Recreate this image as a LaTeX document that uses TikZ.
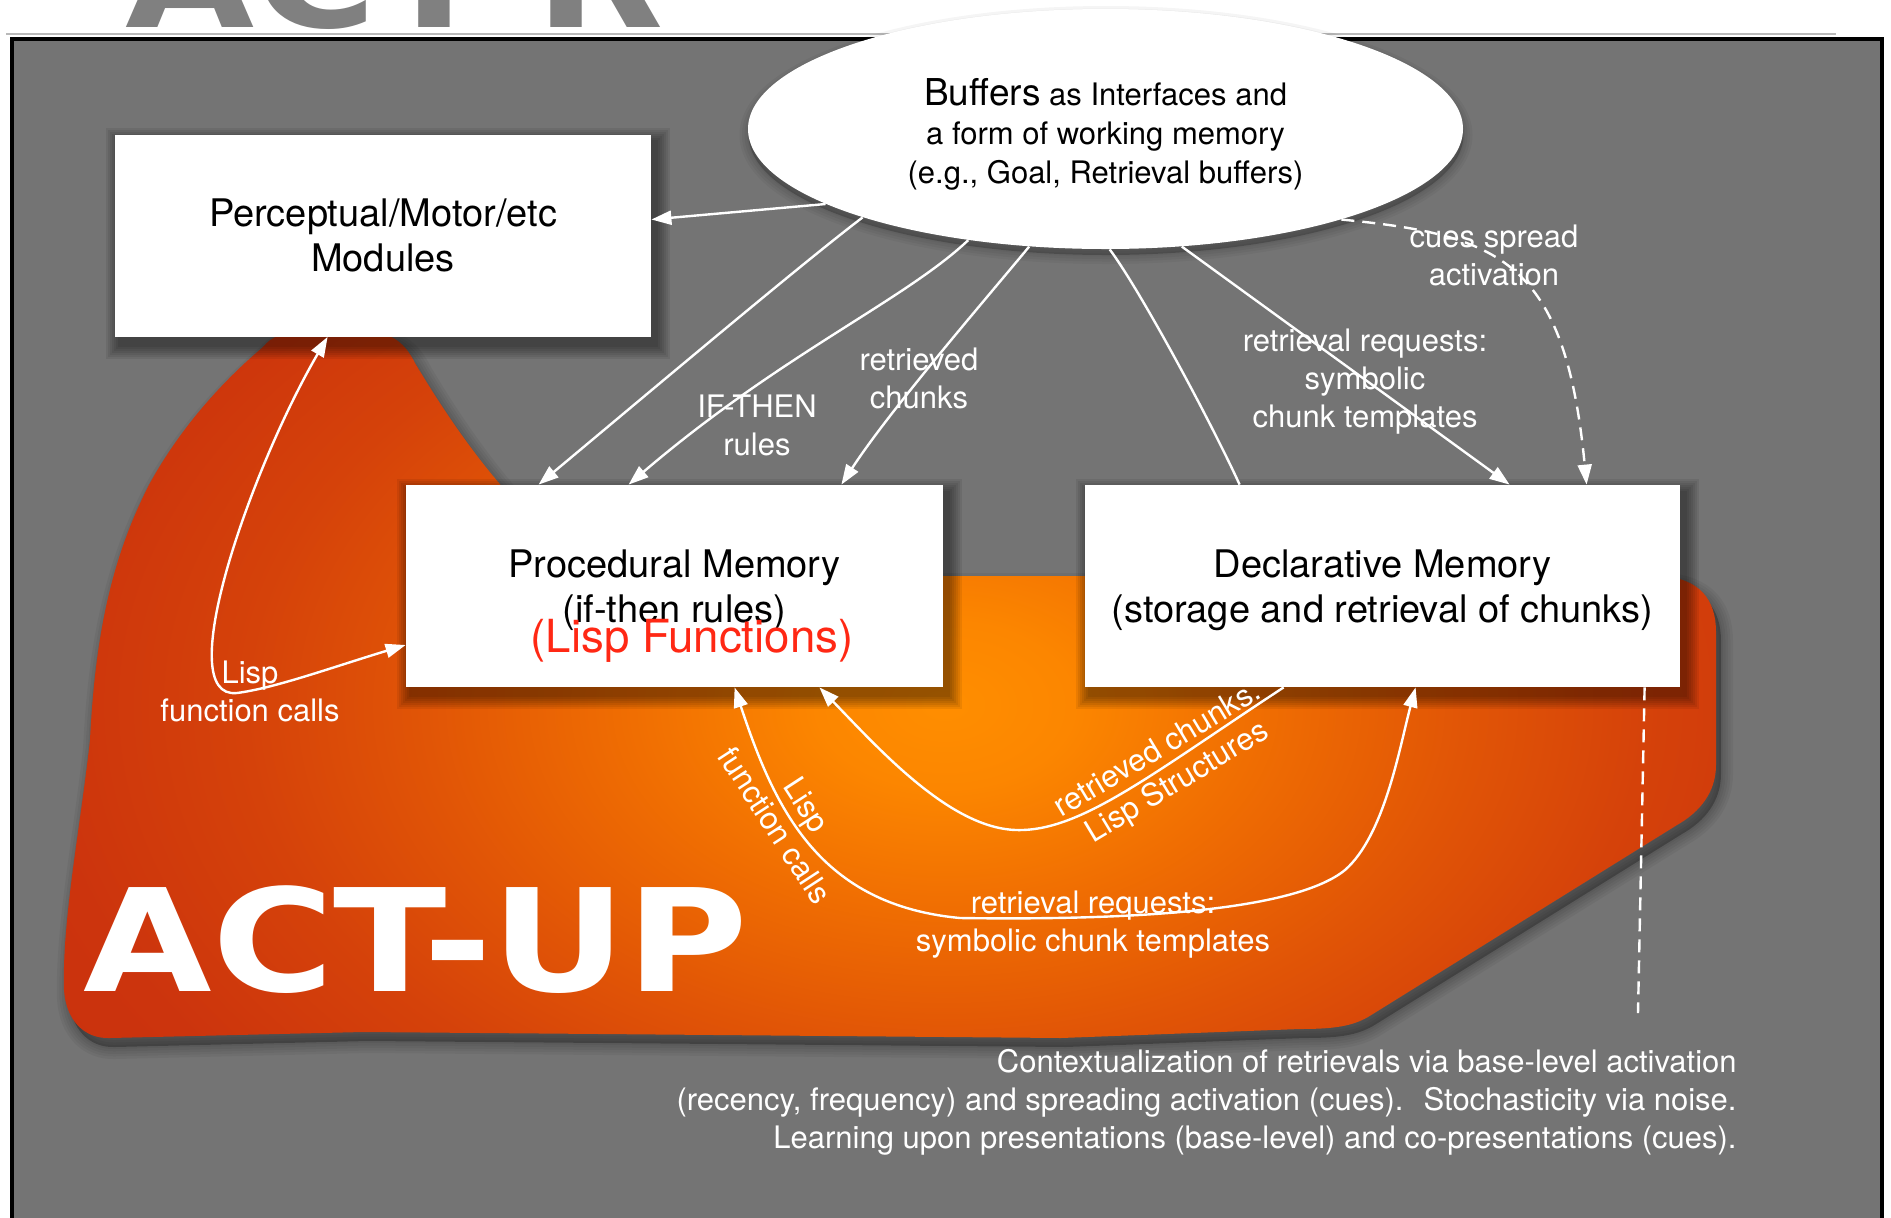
\documentclass[tikz,border=0pt]{standalone}
\usepackage{fontspec}
\setmainfont{TeX Gyre Heros}
\newfontfamily\actfont{DejaVu Sans}
\usetikzlibrary{arrows.meta,shapes.geometric}
\pgfdeclarelayer{bg}
\pgfsetlayers{bg,main}
\definecolor{panelgray}{RGB}{116,116,116}
\definecolor{actgray}{RGB}{128,128,128}
\definecolor{lispred}{RGB}{255,40,20}
\definecolor{oc0}{RGB}{255,142,0}
\definecolor{oc1}{RGB}{252,134,0}
\definecolor{oc2}{RGB}{240,110,2}
\definecolor{oc3}{RGB}{225,85,6}
\definecolor{oc4}{RGB}{213,66,10}
\definecolor{oc5}{RGB}{204,52,13}
\definecolor{oc6}{RGB}{198,45,15}
\pgfdeclareradialshading{blobshade}{\pgfpoint{0bp}{0bp}}{color(0bp)=(oc0); color(3.2bp)=(oc1); color(7.8bp)=(oc2); color(13bp)=(oc3); color(17.5bp)=(oc4); color(22.7bp)=(oc5); color(32.5bp)=(oc6); color(50bp)=(oc6)}
\def\blobpath{(263,347) .. controls (272,336) and (282,333) .. (300,333) -- (372,333) .. controls (392,333) and (405,343) .. (415,363) .. controls (440,405) and (470,450) .. (505,490) -- (520,576) -- (1660,576) .. controls (1700,578) and (1716,600) .. (1716,632) -- (1716,765) .. controls (1716,792) and (1700,812) .. (1677,825) -- (1368,1017) .. controls (1352,1026) and (1335,1029) .. (1300,1029) -- (1061,1038) -- (600,1034) -- (363,1032) -- (110,1038) .. controls (84,1039) and (66,1020) .. (64,990) .. controls (62,920) and (80,830) .. (90,740) .. controls (95,640) and (110,560) .. (150,483) .. controls (185,420) and (230,375) .. (263,347) -- cycle}
\newcommand\boxshadow[1]{\foreach \k in {1,...,7}{\fill[black,opacity=0.07] ([shift={(5-2*\k,8-2*\k)}]#1.north west) rectangle ([shift={(5+2*\k,8+2*\k)}]#1.south east);}}
\begin{document}
\begin{tikzpicture}[x=0.5pt,y=-0.5pt, >={Triangle[length=10pt,width=7pt]},
  membox/.style={fill=white, inner sep=0pt, align=center, font=\fontsize{19}{22.5}\selectfont, minimum height=101pt},
  wline/.style={white, line width=1.2pt},
  dashline/.style={dash pattern=on 6.5pt off 4pt},
  lbl/.style={text=white, align=center, inner sep=0pt, font=\fontsize{15.5}{19}\selectfont}]
\useasboundingbox (0,0) rectangle (1891,1217);

% nodes
\node[membox, minimum width=268pt] (percep) at (383,235.5) {Perceptual/Motor/etc\\Modules};
\node[membox, minimum width=268.5pt] (proc) at (674.5,586) {\rule{0pt}{18pt}Procedural Memory\\(if-then rules)};
\node[membox, minimum width=297.5pt] (decl) at (1382.5,586) {\rule{0pt}{18pt}Declarative Memory\\(storage and retrieval of chunks)};
\node[ellipse, fill=white, minimum width=357.5pt, minimum height=120pt, inner sep=0pt, align=center, font=\fontsize{15.5}{19.5}\selectfont] (buf) at (1105.5,129) {\rule{0pt}{18.7pt}{\fontsize{18.5}{19.5}\selectfont Buffers} as Interfaces and\\a form of working memory\\(e.g., Goal, Retrieval buffers)};
\node[text=lispred, font=\fontsize{22.8}{26}\selectfont, anchor=base, inner sep=0pt] (lispfn) at (692,652) {(Lisp Functions)};
\node[anchor=base west, inner sep=0pt, xscale=1.17, text=actgray, font=\actfont\bfseries\fontsize{71.3}{80}\selectfont] (actr) at (125,27) {ACT-R};
\node[anchor=base west, inner sep=0pt, xscale=1.165, text=white, font=\actfont\bfseries\fontsize{71.3}{80}\selectfont] (actup) at (83,991) {ACT-UP};

% background layer
\begin{pgfonlayer}{bg}
\fill[white] (0,0) rectangle (1891,1217);
\draw[gray!55, line width=1.2pt] (6,34) -- (1836,34);
\fill[panelgray] (12,39) rectangle (1882,1240);
\draw[black, line width=2pt] (12,39) rectangle (1882,1240);
\begin{scope}[shift={(5,9)}]
  \fill[black, opacity=0.25] \blobpath;
  \foreach \w in {4,9,...,24}{\draw[black, opacity=0.045, line width=\w*0.5pt, line join=round] \blobpath;}
\end{scope}
\begin{scope}
  \clip \blobpath;
  \shade[shading=blobshade] (945,705) ellipse [x radius=1000, y radius=650];
\end{scope}
\boxshadow{percep}
\boxshadow{proc}
\boxshadow{decl}
\fill[black, opacity=0.2] (1106,135) ellipse [x radius=357.5, y radius=120];
\foreach \w in {3,8,...,18}{\draw[black, opacity=0.04, line width=\w*0.5pt] (1106,135) ellipse [x radius=357.5, y radius=120];}
\end{pgfonlayer}

% connectors
\begin{scope}[wline]
\draw[->] (buf.195) -- ([yshift=8pt]percep.east);
\draw[->] (buf.200) .. controls (800,265) and (640,400) .. ([xshift=66.5pt]proc.north west);
\draw[->] (buf.219) .. controls (905,300) and (780,355) .. ([xshift=111.5pt]proc.north west);
\draw[->] (buf.237) .. controls (985,300) and (890,410) .. ([xshift=-51pt]proc.north east);
\draw (buf.-88) .. controls (1140,290) and (1210,420) .. ([xshift=77.5pt]decl.north west);
\draw[->] (buf.-57) -- ([xshift=212.5pt]decl.north west);
\draw[->, dashline] (buf.-21) .. controls (1500,235) and (1565,260) .. ([xshift=251pt]decl.north west);
\draw[<->] ([xshift=106.5pt]percep.south west) .. controls (250,470) and (170,700) .. (237,693) .. controls (275,688) and (330,668) .. ([yshift=-29.5pt]proc.west);
\draw[->] ([xshift=99.5pt]decl.south west) .. controls (1150,775) and (1080,832) .. (1016,830) .. controls (950,828) and (880,750) .. ([xshift=-62pt]proc.south east);
\draw[<->] ([xshift=164.5pt]proc.south west) .. controls (775,810) and (820,905) .. (960,918) .. controls (1100,920) and (1290,915) .. (1345,870) .. controls (1385,835) and (1400,745) .. ([xshift=165.5pt]decl.south west);
\coordinate (dashend) at (1638,1013);
\draw[dashline] ([xshift=280pt]decl.south west) -- (dashend);
\end{scope}

% labels
\node[lbl] (lifthen) at (757,425) {IF-THEN\\rules};
\node[lbl] (lretr) at (919,378) {retrieved\\chunks};
\node[lbl] (lrreq) at (1365,382) {retrieval requests:\\symbolic\\chunk templates};
\node[lbl] (lcues) at (1494,255) {cues spread\\activation};
\node[lbl] (llispa) at (250,691) {Lisp\\function calls};
\node[lbl] (lrreqb) at (1093,925) {retrieval requests:\\symbolic chunk templates};
\node[lbl, rotate=-57] (llispb) at (791,815) {Lisp\\function calls};
\node[lbl, rotate=31] (lchunks) at (1168,767) {retrieved chunks.\\Lisp Structures};
\node[lbl, align=right, anchor=north east] (context) at (1737,1049) {Contextualization of retrievals via base-level activation\\(recency, frequency) and spreading activation (cues).~ Stochasticity via noise.\\Learning upon presentations (base-level) and co-presentations (cues).};
\end{tikzpicture}
\end{document}
